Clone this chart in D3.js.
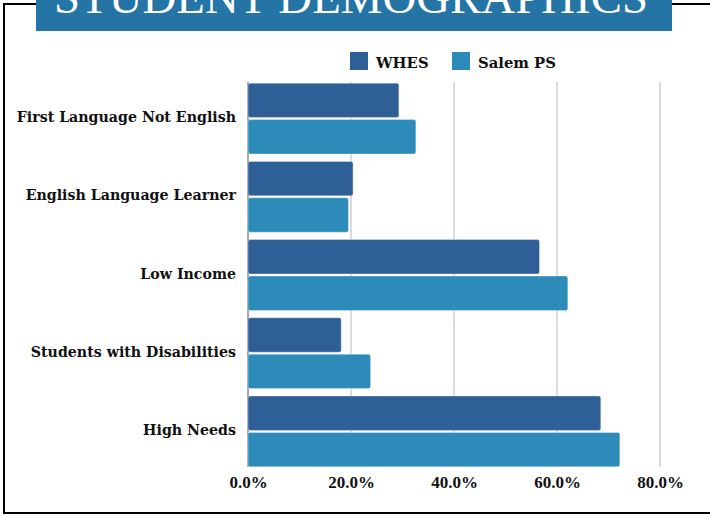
<!DOCTYPE html>
<html><head><meta charset="utf-8">
<script src="https://cdn.jsdelivr.net/npm/d3@7"></script>
<style>body{margin:0;background:#fff}svg{display:block}</style>
</head><body>
<svg id="c" width="710" height="514"></svg>
<script>
const categories = ["First Language Not English","English Language Learner","Low Income","Students with Disabilities","High Needs"];
const seriesNames = ["WHES","Salem PS"];
const whes = [29.3, 20.4, 56.6, 18.1, 68.5];
const salem = [32.6, 19.5, 62.1, 23.8, 72.2];
const ticks = [0, 20, 40, 60, 80];
const colors = ["#2e5f96", "#2d8bba"];
const title = "STUDENT DEMOGRAPHICS";

const svg = d3.select("#c");
const serif = "'Liberation Serif', 'Times New Roman', serif";
const wide = "'DejaVu Serif', serif";

// frame
svg.append("rect").attr("x",4).attr("y",4).attr("width",730).attr("height",509)
  .attr("fill","none").attr("stroke","#000").attr("stroke-width",2);

// banner
svg.append("rect").attr("x",36).attr("y",-2).attr("width",636).attr("height",33).attr("fill","#2574a6");
svg.append("text").attr("x",54).attr("y",13).attr("fill","#fff")
  .attr("font-family",serif).attr("font-size",46).attr("textLength",594)
  .attr("lengthAdjust","spacingAndGlyphs").text(title);

const x = d3.scaleLinear().domain([0,80]).range([248,660]);
const y = d3.scaleBand().domain(categories).range([79.5,470.5]).paddingInner(0.094).paddingOuter(0.047);
const y1 = d3.scaleBand().domain(seriesNames).range([0,y.bandwidth()]).paddingInner(0.055);

// grid
svg.append("g").selectAll("line").data(ticks).join("line")
  .attr("x1",d=>x(d)).attr("x2",d=>x(d)).attr("y1",82).attr("y2",467)
  .attr("stroke",d=>d===0?"#a8a8a8":"#dcdcdc").attr("stroke-width",2);

// bars
const data = categories.map((c,i)=>({c, vals:[whes[i], salem[i]]}));
const g = svg.append("g").selectAll("g").data(data).join("g")
  .attr("transform",d=>`translate(0,${y(d.c)})`);
g.selectAll("rect").data(d=>d.vals.map((v,j)=>({v,s:seriesNames[j],j}))).join("rect")
  .attr("x",x(0)).attr("y",d=>y1(d.s)).attr("width",d=>x(d.v)-x(0)).attr("height",y1.bandwidth())
  .attr("rx",2).attr("fill",d=>colors[d.j]).attr("stroke","rgba(255,255,255,0.35)").attr("stroke-width",1);

// axis labels
const xAxis = d3.axisBottom(x).tickValues(ticks).tickFormat(d=>d3.format(".1f")(d)+"%").tickSize(0).tickPadding(0);
const ax = svg.append("g").attr("transform","translate(0,476)").call(xAxis);
ax.select(".domain").remove();
ax.selectAll("text").attr("font-family",serif).attr("font-weight","bold").attr("font-size",17)
  .attr("fill","#111").attr("dy","0.71em");

const yAxis = d3.axisLeft(y).tickSize(0).tickPadding(0);
const ay = svg.append("g").attr("transform","translate(236,-1)").call(yAxis);
ay.select(".domain").remove();
ay.selectAll("text").attr("font-family",wide).attr("font-weight","bold").attr("font-size",14.2).attr("fill","#111");

// legend
const leg = svg.append("g");
const lx = [350, 452];
seriesNames.forEach((s,i)=>{
  leg.append("rect").attr("x",lx[i]).attr("y",52).attr("width",18).attr("height",18).attr("fill",colors[i]);
  leg.append("text").attr("x",lx[i]+26).attr("y",68).attr("font-family",wide).attr("font-weight","bold")
    .attr("font-size",14.8).attr("fill","#111").text(s);
});
</script>
</body></html>
